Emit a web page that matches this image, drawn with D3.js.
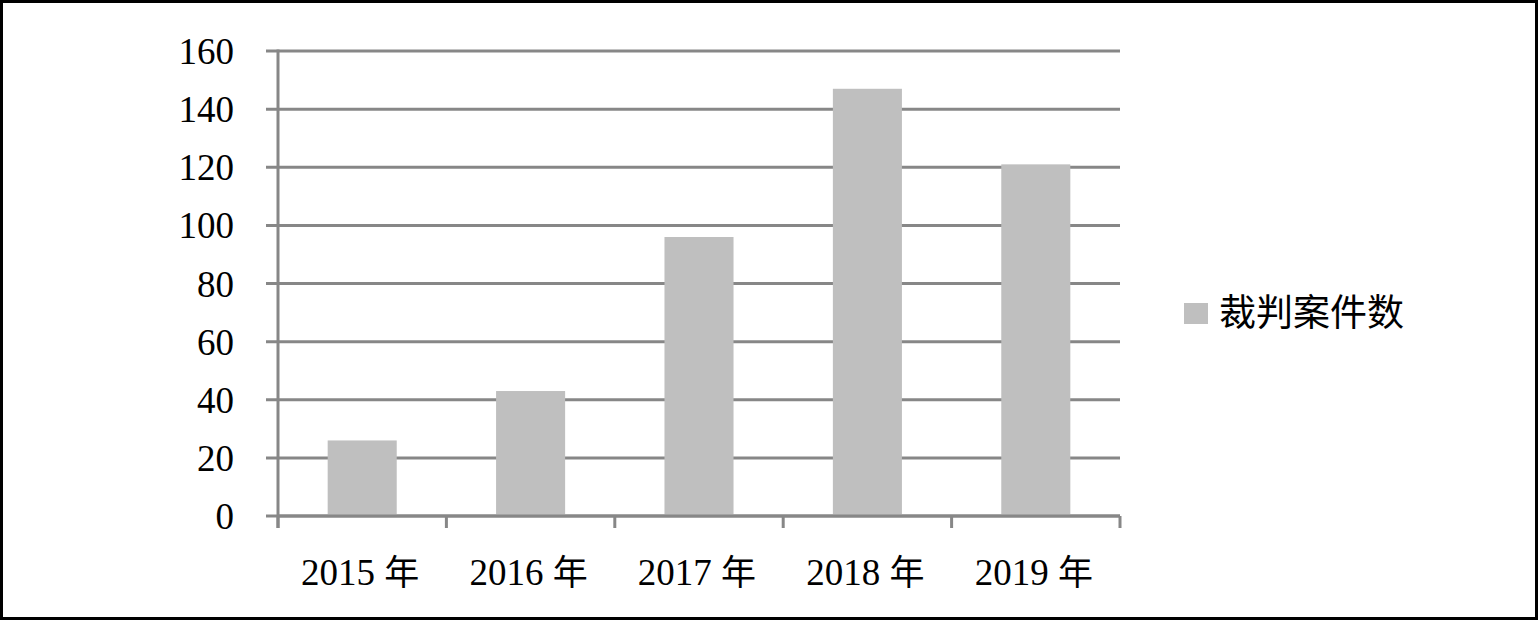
<!DOCTYPE html>
<html><head><meta charset="utf-8">
<script src="https://cdn.jsdelivr.net/npm/d3@7"></script>
<style>
html,body{margin:0;padding:0;background:#fff;}
svg{display:block;}
</style></head>
<body>
<svg id="chart" width="1539" height="621"></svg>
<script>
const categories = ["2015", "2016", "2017", "2018", "2019"];
const categorySuffix = "年";
const values = [26, 43, 96, 147, 121];
const yTicks = [0, 20, 40, 60, 80, 100, 120, 140, 160];
const seriesName = "裁判案件数";

const svg = d3.select("#chart");
const W = 1539, H = 621;
const m = {left: 278, right: 1120, top: 51, bottom: 516};
const grid = "#878787", barColor = "#bfbfbf";
const serif = "'Liberation Serif','Times New Roman',serif";
const cjk = "'Noto Sans CJK SC','Noto Sans CJK JP',sans-serif";

svg.append("rect").attr("x", 1.5).attr("y", 1.5).attr("width", W - 4).attr("height", H - 4)
  .attr("fill", "#fff").attr("stroke", "#000").attr("stroke-width", 3);

const x = d3.scaleBand().domain(categories).range([m.left, m.right]).paddingInner(0.59).paddingOuter(0.295);
const y = d3.scaleLinear().domain([0, 160]).range([m.bottom, m.top]);

// gridlines
svg.append("g").selectAll("line").data(yTicks).join("line")
  .attr("x1", m.left - 12).attr("x2", m.right)
  .attr("y1", d => y(d)).attr("y2", d => y(d))
  .attr("stroke", grid).attr("stroke-width", 3);

// bars
svg.append("g").selectAll("rect").data(values).join("rect")
  .attr("x", (d, i) => x(categories[i]))
  .attr("width", x.bandwidth())
  .attr("y", d => y(d))
  .attr("height", d => y(0) - y(d))
  .attr("fill", barColor);

// y axis line
svg.append("line").attr("x1", m.left).attr("x2", m.left).attr("y1", m.top - 1.5).attr("y2", m.bottom + 12)
  .attr("stroke", grid).attr("stroke-width", 3);
// x axis line
svg.append("line").attr("x1", m.left).attr("x2", m.right).attr("y1", m.bottom).attr("y2", m.bottom)
  .attr("stroke", grid).attr("stroke-width", 3);
// x ticks at band boundaries
const step = x.step();
const boundaries = categories.map((c, i) => x(c) - x.paddingOuter() * step + (i === 0 ? 0 : 0));
const tickXs = categories.map(c => x(c) - x.paddingInner() * step / 2).concat([m.right]);
tickXs[0] = m.left;
svg.append("g").selectAll("line").data(tickXs).join("line")
  .attr("x1", d => d).attr("x2", d => d).attr("y1", m.bottom).attr("y2", m.bottom + 12)
  .attr("stroke", grid).attr("stroke-width", 3);

// y labels
svg.append("g").selectAll("text").data(yTicks).join("text")
  .attr("x", 234).attr("y", d => y(d) + 13)
  .attr("text-anchor", "end")
  .attr("font-family", serif).attr("font-size", 37).attr("fill", "#000")
  .text(d => d);

// x labels
const xl = svg.append("g").selectAll("text").data(categories).join("text")
  .attr("x", d => x(d) + x.bandwidth() / 2 - 2).attr("y", 585)
  .attr("text-anchor", "middle").attr("fill", "#000");
xl.append("tspan").attr("font-family", serif).attr("font-size", 37).text(d => d + " ");
xl.append("tspan").attr("font-family", cjk).attr("font-size", 35).text(categorySuffix);

// legend
svg.append("rect").attr("x", 1184).attr("y", 303).attr("width", 24).attr("height", 21).attr("fill", barColor);
svg.append("text").attr("x", 1219).attr("y", 326)
  .attr("font-family", cjk).attr("font-size", 37).attr("fill", "#000").text(seriesName);
</script>
</body></html>
